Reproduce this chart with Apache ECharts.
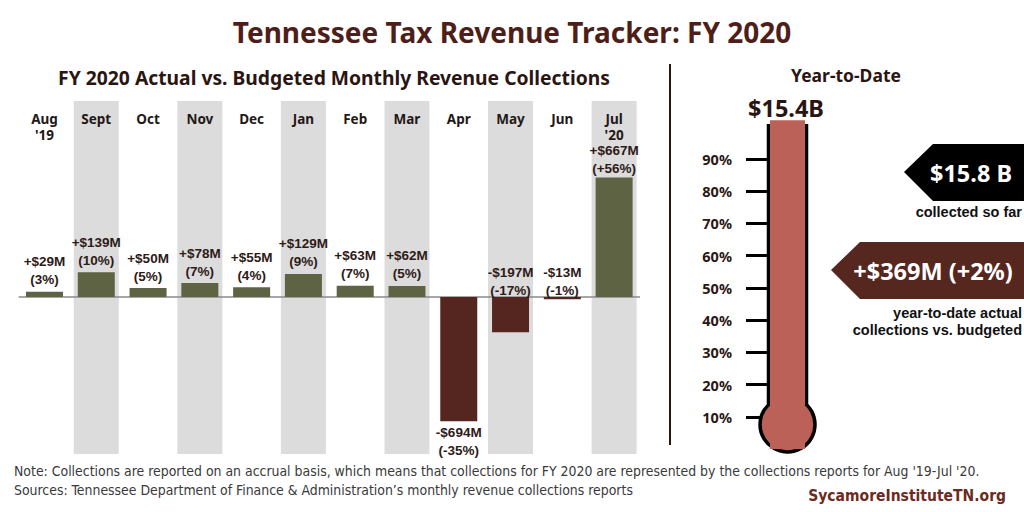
<!DOCTYPE html>
<html>
<head>
<meta charset="utf-8">
<script src="https://cdn.jsdelivr.net/npm/echarts@6/dist/echarts.min.js"></script>
<style>
html,body{margin:0;padding:0;background:#fff;}
#chart{width:1024px;height:512px;}
</style>
</head>
<body>
<div id="chart"></div>
<script>
// ---- data ----
const months = ["Aug\n'19", "Sept", "Oct", "Nov", "Dec", "Jan", "Feb", "Mar", "Apr", "May", "Jun", "Jul\n'20"];
const diffMillions = [29, 139, 50, 78, 55, 129, 63, 62, -694, -197, -13, 667];
const pctLabels = ["(3%)", "(10%)", "(5%)", "(7%)", "(4%)", "(9%)", "(7%)", "(5%)", "(-35%)", "(-17%)", "(-1%)", "(+56%)"];
const labelBelow = [false, false, false, false, false, false, false, false, true, false, false, false];
const ytdBudgetLabel = "$15.4B";
const ytdCollectedLabel = "$15.8 B";
const ytdDiffLabel = "+$369M (+2%)";
const ytdPercentOfBudget = [102];
const thermoTicks = [10, 20, 30, 40, 50, 60, 70, 80, 90];

// ---- styles ----
const GREEN = '#5e6344', DARKRED = '#55261f', BAND = '#dcdcdc', THERMO = '#bb6158';
const TXT = '#2b1714', TITLE = '#4e1f1a';
const HEAD = '"Noto Sans", Lato, sans-serif';
const ARIAL = '"Liberation Sans", Arial, sans-serif';
const NARROW = '"Liberation Sans Narrow", "DejaVu Sans Condensed", "Liberation Sans", sans-serif';

const chart = echarts.init(document.getElementById('chart'), null, {renderer: 'svg'});

const barData = diffMillions.map((v, i) => ({
  value: v,
  itemStyle: {color: v >= 0 ? GREEN : DARKRED},
  label: {position: labelBelow[i] ? 'bottom' : 'top',
          distance: v >= 0 ? (i === diffMillions.length - 1 ? 0 : 3) : (labelBelow[i] ? 2 : -2)}
}));

const option = {
  animation: false,
  backgroundColor: '#ffffff',
  grid: [
    {left: 18.6, top: 101, width: 621.4, height: 353},
    {left: 767, top: 94.6, width: 41, height: 354.4}
  ],
  xAxis: [
    {type: 'category', gridIndex: 0, data: months, position: 'top', z: 6,
     axisLine: {show: false, onZero: false}, axisTick: {show: false},
     axisLabel: {inside: true, margin: 10, verticalAlign: 'top', color: '#231815',
                 fontFamily: HEAD, fontWeight: 'bold', fontSize: 13.5, lineHeight: 16, interval: 0}},
    {type: 'category', gridIndex: 0, data: months, show: false},
    {type: 'category', gridIndex: 1, data: ['YTD'], show: false}
  ],
  yAxis: [
    {type: 'value', gridIndex: 0, min: -877, max: 1095, show: false},
    {type: 'value', gridIndex: 0, min: 0, max: 1, show: false},
    {type: 'value', gridIndex: 1, min: 0, max: 110, position: 'left',
     axisLine: {show: false}, splitLine: {show: false},
     axisTick: {show: true, customValues: thermoTicks, length: 21, lineStyle: {color: '#000', width: 3}},
     axisLabel: {show: true, customValues: thermoTicks, margin: 35, formatter: '{value}%',
                 color: TXT, fontFamily: HEAD, fontWeight: 'bold', fontSize: 14.5}}
  ],
  series: [
    {type: 'bar', name: 'band', xAxisIndex: 1, yAxisIndex: 1, barWidth: 45, z: 1, silent: true,
     data: months.map((m, i) => i % 2 === 1 ? 1 : 0), itemStyle: {color: BAND}},
    {type: 'bar', name: 'diff', xAxisIndex: 0, yAxisIndex: 0, barWidth: 37, z: 3,
     data: barData,
     label: {show: true, color: '#2e1a17', fontFamily: ARIAL, fontWeight: 'bold', fontSize: 13.5, lineHeight: 18,
             formatter: p => (diffMillions[p.dataIndex] >= 0 ? '+$' + diffMillions[p.dataIndex] : '-$' + (-diffMillions[p.dataIndex])) + 'M\n' + pctLabels[p.dataIndex]},
     markLine: {silent: true, symbol: 'none', label: {show: false}, z: 2,
                lineStyle: {color: '#8a8a8a', width: 1.5, type: 'solid'}, data: [{yAxis: 0}]}},
    {type: 'bar', name: 'thermo', xAxisIndex: 2, yAxisIndex: 2, barWidth: 35, z: 5, clip: false,
     data: ytdPercentOfBudget, itemStyle: {color: THERMO}}
  ],
  graphic: [
    {type: 'text', x: 512, y: 32, z: 10,
     style: {text: 'Tennessee Tax Revenue Tracker: FY 2020', fill: TITLE, font: 'bold 28px ' + HEAD, textAlign: 'center', textVerticalAlign: 'middle'}},
    {type: 'text', x: 334, y: 77, z: 10,
     style: {text: 'FY 2020 Actual vs. Budgeted Monthly Revenue Collections', fill: '#2a1512', font: 'bold 19.3px ' + HEAD, textAlign: 'center', textVerticalAlign: 'middle'}},
    {type: 'line', z: 10, shape: {x1: 670, y1: 64, x2: 670, y2: 445}, style: {stroke: '#2a1410', lineWidth: 2}},
    {type: 'text', x: 846, y: 75, z: 10,
     style: {text: 'Year-to-Date', fill: '#2a1512', font: 'bold 17.5px ' + HEAD, textAlign: 'center', textVerticalAlign: 'middle'}},
    {type: 'text', x: 786, y: 108, z: 10,
     style: {text: ytdBudgetLabel, fill: '#2a1512', font: 'bold 23.5px ' + HEAD, textAlign: 'center', textVerticalAlign: 'middle'}},
    // thermometer outline
    {type: 'circle', z: 1, shape: {cx: 787.5, cy: 424.5, r: 27.5}, style: {fill: THERMO, stroke: '#000', lineWidth: 3.5}},
    {type: 'line', z: 4, shape: {x1: 768.5, y1: 124, x2: 768.5, y2: 404}, style: {stroke: '#000', lineWidth: 3.5}},
    {type: 'line', z: 4, shape: {x1: 806.5, y1: 124, x2: 806.5, y2: 404}, style: {stroke: '#000', lineWidth: 3.5}},
    // callouts
    {type: 'polygon', z: 10, shape: {points: [[904, 172], [933, 144], [1024, 144], [1024, 201], [933, 201]]}, style: {fill: '#000'}},
    {type: 'text', x: 971, y: 173, z: 11,
     style: {text: ytdCollectedLabel, fill: '#fff', font: 'bold 23.5px ' + HEAD, textAlign: 'center', textVerticalAlign: 'middle'}},
    {type: 'text', x: 1022, y: 212, z: 11,
     style: {text: 'collected so far', fill: '#111', font: 'bold 14.5px ' + ARIAL, textAlign: 'right', textVerticalAlign: 'middle'}},
    {type: 'polygon', z: 10, shape: {points: [[831, 270], [860, 242], [1024, 242], [1024, 299], [860, 299]]}, style: {fill: '#55271f'}},
    {type: 'text', x: 933, y: 271, z: 11,
     style: {text: ytdDiffLabel, fill: '#fff', font: 'bold 23.5px ' + HEAD, textAlign: 'center', textVerticalAlign: 'middle'}},
    {type: 'text', x: 1022, y: 313, z: 11,
     style: {text: 'year-to-date actual', fill: '#111', font: 'bold 14.5px ' + ARIAL, textAlign: 'right', textVerticalAlign: 'middle'}},
    {type: 'text', x: 1022, y: 330, z: 11,
     style: {text: 'collections vs. budgeted', fill: '#111', font: 'bold 14.5px ' + ARIAL, textAlign: 'right', textVerticalAlign: 'middle'}},
    // footer
    {type: 'text', x: 14, y: 471, z: 11,
     style: {text: "Note: Collections are reported on an accrual basis, which means that collections for FY 2020 are represented by the collections reports for Aug '19-Jul '20.", fill: '#3a3a3a', font: '13.9px ' + NARROW, textVerticalAlign: 'middle'}},
    {type: 'text', x: 14, y: 490, z: 11,
     style: {text: "Sources: Tennessee Department of Finance & Administration\u2019s monthly revenue collections reports", fill: '#3a3a3a', font: '13.9px ' + NARROW, textVerticalAlign: 'middle'}},
    {type: 'text', x: 1006, y: 496, z: 11,
     style: {text: 'SycamoreInstituteTN.org', fill: '#6b2a22', font: 'bold 15.5px ' + NARROW, textAlign: 'right', textVerticalAlign: 'middle'}}
  ]
};
chart.setOption(option);
</script>
</body>
</html>
